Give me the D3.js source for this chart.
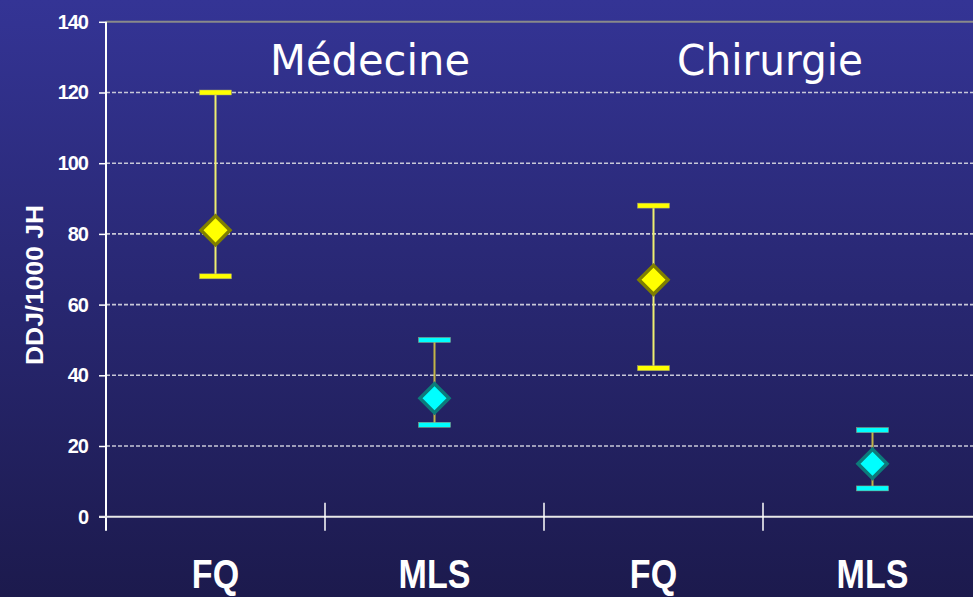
<!DOCTYPE html>
<html>
<head>
<meta charset="utf-8">
<script src="https://cdn.jsdelivr.net/npm/d3@7"></script>
<style>
  html, body { margin: 0; padding: 0; background: #26246a; }
  svg { display: block; }
</style>
</head>
<body>
<svg id="chart" width="973" height="597"></svg>
<script>
// Consumption (DDJ/1000 JH) by antibiotic class and ward type
const groups = ["Médecine", "Chirurgie"];
const classes = ["FQ", "MLS", "FQ", "MLS"];
const means = [81, 33.5, 67, 15];
const upper = [120, 50, 88, 24.5];
const lower = [68, 26, 42, 8];
const yTicks = [0, 20, 40, 60, 80, 100, 120, 140];

const W = 973, H = 597;
const svg = d3.select("#chart");

// Background gradient
const defs = svg.append("defs");
const grad = defs.append("linearGradient").attr("id", "bg")
  .attr("x1", 0).attr("y1", 0).attr("x2", 0).attr("y2", 1);
grad.append("stop").attr("offset", "0%").attr("stop-color", "#343495");
grad.append("stop").attr("offset", "100%").attr("stop-color", "#1c1a4d");
svg.append("rect").attr("width", W).attr("height", H).attr("fill", "url(#bg)");

const ids = classes.map((c, i) => i);
const x = d3.scaleBand().domain(ids).range([106, 982]).padding(0);
const y = d3.scaleLinear().domain([0, 140]).range([516.7, 21.8]);

// Dashed gridlines
svg.append("g").selectAll("line")
  .data(yTicks.filter(t => t > 0 && t < 140))
  .join("line")
  .attr("x1", 106).attr("x2", W)
  .attr("y1", d => y(d)).attr("y2", d => y(d))
  .attr("stroke", "#c8c8d8").attr("stroke-width", 1.6)
  .attr("stroke-dasharray", "4,2");

// Top border of plot area
svg.append("line")
  .attr("x1", 106).attr("x2", W)
  .attr("y1", y(140)).attr("y2", y(140))
  .attr("stroke", "#8a8a8a").attr("stroke-width", 2);

// Y axis
const yAxis = svg.append("g")
  .attr("transform", "translate(106,0)")
  .call(d3.axisLeft(y).tickValues(yTicks).tickSize(7).tickPadding(11).tickSizeOuter(0));
yAxis.select(".domain").remove();
yAxis.selectAll(".tick line").attr("stroke", "#ffffff").attr("stroke-width", 1.5);
yAxis.selectAll(".tick text")
  .attr("fill", "#ffffff")
  .attr("font-family", "Liberation Sans, Arial, sans-serif")
  .attr("font-weight", "bold")
  .attr("font-size", 20)
  .attr("letter-spacing", -1);
svg.append("line")
  .attr("x1", 106).attr("x2", 106)
  .attr("y1", y(140)).attr("y2", y(0) + 14)
  .attr("stroke", "#ffffff").attr("stroke-width", 2);

// X axis line and category separators
svg.append("line")
  .attr("x1", 99).attr("x2", W)
  .attr("y1", y(0)).attr("y2", y(0))
  .attr("stroke", "#e8e8e8").attr("stroke-width", 2);
svg.append("g").selectAll("line")
  .data(ids.slice(1))
  .join("line")
  .attr("x1", d => x(d)).attr("x2", d => x(d))
  .attr("y1", y(0) - 14).attr("y2", y(0) + 14)
  .attr("stroke", "#ffffff").attr("stroke-width", 1.5);

// Category labels
svg.append("g").selectAll("text")
  .data(ids)
  .join("text")
  .attr("transform", d => `translate(${x(d) + x.bandwidth() / 2},588) scale(0.92,1.08)`)
  .attr("text-anchor", "middle")
  .attr("fill", "#ffffff")
  .attr("font-family", "Liberation Sans, Arial, sans-serif")
  .attr("font-weight", "bold")
  .attr("font-size", 37)
  .text(d => classes[d]);

// Y axis title
svg.append("text")
  .attr("transform", "translate(43,285) rotate(-90)")
  .attr("text-anchor", "middle")
  .attr("fill", "#ffffff")
  .attr("font-family", "Liberation Sans, Arial, sans-serif")
  .attr("font-weight", "bold")
  .attr("font-size", 24)
  .attr("textLength", 160)
  .attr("lengthAdjust", "spacingAndGlyphs")
  .text("DDJ/1000 JH");

// Group titles
const titleX = [270, 677];
const titleW = [200, 186];
svg.append("g").selectAll("text")
  .data(groups)
  .join("text")
  .attr("x", (d, i) => titleX[i])
  .attr("y", 75)
  .attr("fill", "#ffffff")
  .attr("font-family", "DejaVu Sans, Verdana, sans-serif")
  .attr("font-size", 43)
  .attr("textLength", (d, i) => titleW[i])
  .attr("lengthAdjust", "spacingAndGlyphs")
  .text(d => d);

// Error bars and mean markers
const fillC = ["#ffff00", "#00ffff", "#ffff00", "#00ffff"];
const strokeC = ["#7f7f00", "#0c7b7b", "#7f7f00", "#0c7b7b"];
const stemC = ["#eeee70", "#c2b448", "#eeee70", "#c2b448"];

const marks = svg.append("g");
const cx = d => x(d) + x.bandwidth() / 2;

marks.selectAll(".stem").data(ids).join("line")
  .attr("class", "stem")
  .attr("x1", cx).attr("x2", cx)
  .attr("y1", d => y(upper[d])).attr("y2", d => y(lower[d]))
  .attr("stroke", d => stemC[d]).attr("stroke-width", 2);

const capW = 32, capH = 5;
["upper", "lower"].forEach(k => {
  const arr = k === "upper" ? upper : lower;
  marks.selectAll(".cap-" + k).data(ids).join("rect")
    .attr("class", "cap-" + k)
    .attr("x", d => cx(d) - capW / 2)
    .attr("y", d => y(arr[d]) - capH / 2)
    .attr("width", capW).attr("height", capH)
    .attr("fill", d => fillC[d])
    .attr("stroke", "#9a9a7a").attr("stroke-width", 0.5);
});

const sym = d3.symbol().type(d3.symbolSquare).size(420);
marks.selectAll(".mean").data(ids).join("path")
  .attr("class", "mean")
  .attr("d", sym)
  .attr("transform", d => `translate(${cx(d)},${y(means[d])}) rotate(45)`)
  .attr("fill", d => fillC[d])
  .attr("stroke", d => strokeC[d])
  .attr("stroke-width", 3.5)
  .attr("stroke-linejoin", "miter");
</script>
</body>
</html>
